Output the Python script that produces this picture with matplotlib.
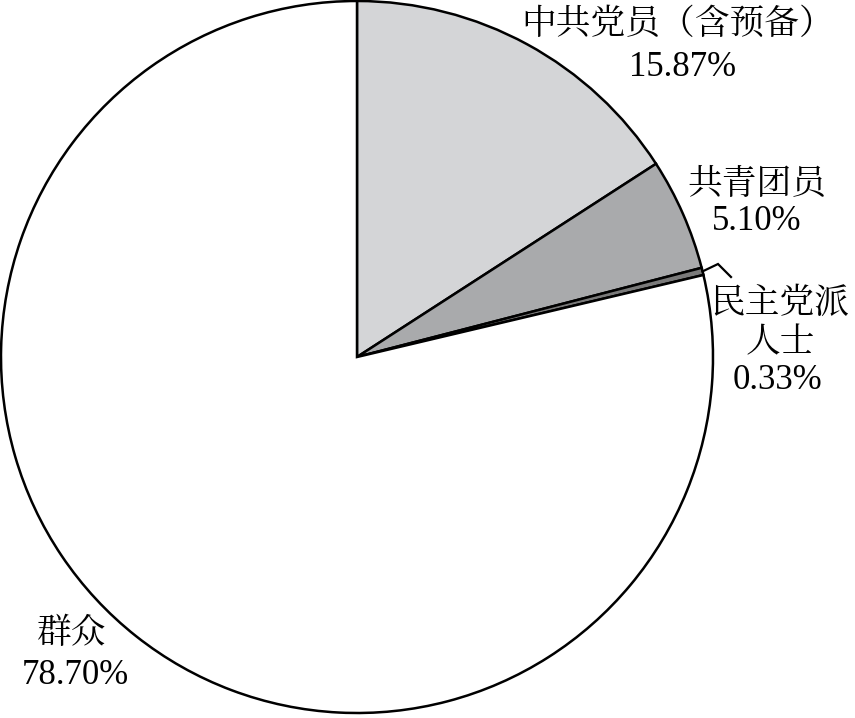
import numpy as np
import matplotlib
matplotlib.use("Agg")
import matplotlib.pyplot as plt

plt.rcParams['font.family'] = ['Liberation Serif', 'Noto Serif CJK SC', 'Noto Sans CJK SC', 'DejaVu Sans']

categories = ["中共党员（含预备）", "共青团员", "民主党派\n人士", "群众"]
values = [15.87, 5.10, 0.33, 78.70]
value_labels = ["15.87%", "5.10%", "0.33%", "78.70%"]
colors = ["#d4d5d7", "#a9aaac", "#7a7a7a", "#ffffff"]

W, H = 855, 718
CX, CY, R = 357, 357, 356

fig = plt.figure(figsize=(W / 100, H / 100), dpi=100)
ax = fig.add_axes([0, 0, 1, 1])

wedges, _ = ax.pie(values, colors=colors, startangle=90, counterclock=False,
                   radius=1.0, center=(0, 0),
                   wedgeprops=dict(edgecolor='black', linewidth=1.8))
ax.set_xlim(-CX / R, (W - CX) / R)
ax.set_ylim(-(H - CY) / R, CY / R)
ax.set_aspect('equal', adjustable='datalim')
ax.axis('off')

def px(x, y):
    return ((x - CX) / R, (CY - y) / R)

fs = 25
label_pos = [(678, 25), (757, 185), (780, 304), (72, 635)]
value_pos = [(683, 67), (757, 222), (778, 381), (75, 676)]
for cat, (lx, ly), vl, (vx, vy) in zip(categories, label_pos, value_labels, value_pos):
    for i, line in enumerate(cat.split("\n")):
        x, y = px(lx, ly + i * 40)
        ax.text(x, y, line, ha='center', va='center', fontsize=fs)
    x, y = px(vx, vy)
    ax.text(x, y, vl, ha='center', va='center', fontsize=fs)

# leader line for the small slice
w = wedges[2]
mid = np.deg2rad((w.theta1 + w.theta2) / 2)
sx, sy = np.cos(mid), np.sin(mid)
p1 = px(718, 264)
p2 = px(731, 277)
ax.plot([sx, p1[0], p2[0]], [sy, p1[1], p2[1]], color='black', lw=1.6,
        solid_joinstyle='miter')

fig.savefig("out.png", dpi=100)
